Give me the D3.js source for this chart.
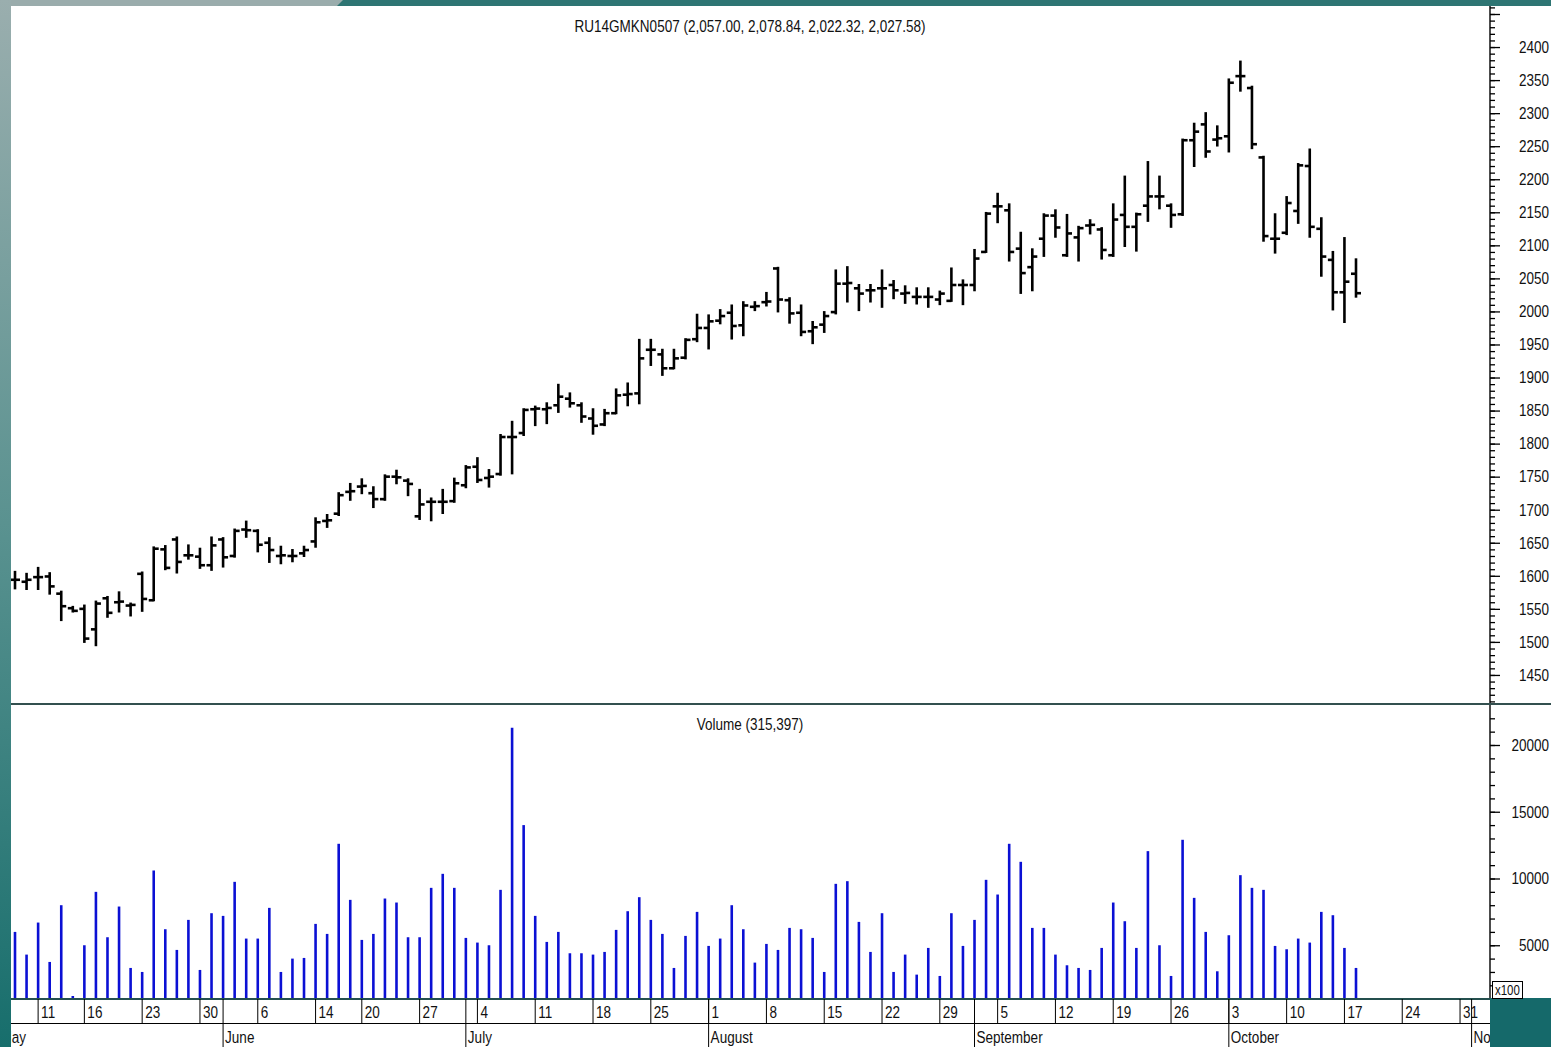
<!DOCTYPE html>
<html>
<head>
<meta charset="utf-8">
<script src="https://d3js.org/d3.v7.min.js"></script>
<style>
body { margin: 0; background: #2e7573; }
svg text { font-family: "Liberation Sans", Arial, sans-serif; fill: #111; }
</style>
</head>
<body>
<svg id="chart" width="1551" height="1047"></svg>
<script>
// OHLC for each trading day (May 5 .. Oct 18, 2005)
const open = [1594,1591,1598,1599,1573,1551,1550,1519,1566,1560,1555,1603,1563,1640,1655,1631,1629,1616,1655,1630,
  1670,1668,1650,1630,1630,1634,1652,1683,1694,1727,1735,1725,1716,1750,1744,1690,1712,1712,1713,1737,
  1765,1748,1754,1810,1816,1852,1852,1858,1868,1858,1838,1829,1846,1874,1876,1942,1935,1914,1930,1958,
  1975,1986,1998,1979,2007,2014,2065,2017,1998,1970,1980,1999,2042,2035,2032,2035,2040,2027,2022,2022,
  2018,2016,2040,2040,2090,2159,2153,2095,2067,2110,2145,2085,2112,2130,2124,2085,2146,2128,2160,2174,
  2160,2147,2259,2283,2260,2265,2356,2338,2233,2110,2119,2152,2220,2125,2078,2029,2057];
const high = [1606,1603,1612,1604,1576,1553,1555,1561,1568,1575,1558,1605,1643,1645,1658,1646,1641,1658,1657,1670,
  1682,1669,1657,1644,1639,1644,1687,1692,1725,1739,1746,1734,1752,1759,1746,1730,1717,1730,1747,1766,
  1778,1760,1813,1833,1852,1856,1861,1889,1876,1861,1852,1851,1882,1891,1957,1957,1942,1942,1958,1995,
  1994,2002,2009,2014,2014,2028,2066,2020,2009,1984,1999,2062,2067,2040,2040,2062,2046,2038,2035,2035,
  2030,2065,2047,2093,2149,2178,2162,2119,2094,2147,2153,2146,2128,2138,2126,2162,2204,2148,2226,2204,
  2162,2260,2284,2300,2280,2351,2378,2340,2234,2147,2173,2223,2245,2141,2090,2111,2078.84];
const low = [1581,1580,1580,1573,1533,1546,1500,1495,1538,1546,1540,1547,1563,1610,1605,1626,1612,1609,1614,1629,
  1659,1637,1621,1619,1622,1630,1644,1674,1692,1715,1725,1704,1715,1740,1722,1686,1684,1695,1712,1734,
  1742,1735,1753,1755,1813,1828,1831,1848,1856,1833,1815,1828,1846,1858,1861,1919,1904,1914,1929,1955,
  1944,1982,1959,1964,2002,2009,2000,1983,1964,1952,1969,1997,2015,2002,2015,2007,2020,2013,2012,2007,
  2011,2016,2011,2032,2090,2135,2077,2028,2032,2084,2113,2084,2077,2118,2080,2084,2099,2092,2137,2156,
  2128,2146,2220,2234,2251,2242,2334,2247,2107,2089,2117,2134,2113,2054,2003,1984,2022.32];
const close = [1594,1594,1598,1584,1554,1547,1505,1558,1544,1561,1556,1565,1641,1612,1621,1631,1616,1646,1628,1668,
  1669,1647,1639,1631,1630,1639,1681,1684,1722,1728,1736,1716,1750,1749,1739,1708,1712,1712,1740,1764,
  1745,1750,1810,1810,1851,1853,1854,1871,1861,1841,1827,1846,1873,1875,1929,1942,1914,1929,1957,1975,
  1985,1993,1978,2009,2008,2015,2018,1997,1969,1976,1993,2042,2043,2027,2032,2035,2032,2028,2022,2022,
  2027,2040,2040,2080,2148,2159,2090,2058,2083,2145,2127,2118,2126,2131,2093,2139,2128,2147,2174,2174,
  2146,2259,2272,2242,2262,2346,2356,2253,2114,2110,2164,2221,2128,2083,2029,2045,2027.58];
// daily volume in hundreds
const volume = [6000,4300,6700,3750,8000,1200,5000,9000,5600,7900,3300,3000,10600,6200,4650,6900,3150,7400,7200,9750,
  5500,5500,7800,3000,4000,4050,6600,5850,12600,8400,5400,5850,8500,8200,5600,5600,9300,10350,9300,5550,
  5200,5000,9150,21300,14000,7200,5250,6000,4400,4400,4300,4500,6150,7550,8600,6900,5850,3300,5700,7500,
  4950,5500,8000,6200,3700,5100,4650,6300,6200,5550,3000,9600,9800,6750,4500,7400,3000,4300,2800,4800,
  2700,7400,4950,6900,9900,8800,12600,11250,6300,6300,4300,3500,3300,3150,4800,8200,6800,4800,12050,5000,
  2700,12900,8550,6000,3050,5750,10250,9300,9150,4950,4700,5500,5200,7500,7250,4800,3300];

// trading calendar (Russian market 2005)
const firstDay = "2005-05-05";
const holidays = ["2005-05-09", "2005-05-10", "2005-06-13"];
const workSaturdays = ["2005-05-14"];
const monthNames = ["January","February","March","April","May","June","July","August","September","October","November","December"];
const priceLabels = [1450,1500,1550,1600,1650,1700,1750,1800,1850,1900,1950,2000,2050,2100,2150,2200,2250,2300,2350,2400];
const volumeLabels = [5000,10000,15000,20000];

const title = "RU14GMKN0507 (2,057.00, 2,078.84, 2,022.32, 2,027.58)";
const volTitle = "Volume (315,397)";

const fmt = d3.timeFormat("%Y-%m-%d");
const days = [];
for (let d = d3.timeParse("%Y-%m-%d")(firstDay); days.length < 128; d = d3.timeDay.offset(d, 1)) {
  const s = fmt(d), wd = d.getDay();
  if (holidays.includes(s)) continue;
  if ((wd === 0 || wd === 6) && !workSaturdays.includes(s)) continue;
  days.push(d);
}

const svg = d3.select("#chart");
const W = 1551, H = 1047;
const axisX = 1490;
const NARROW = 0.82; // squeeze Liberation Sans to look like Arial Narrow

// frame
const defs = svg.append("defs");
const grad = defs.append("linearGradient").attr("id", "side").attr("x1", 0).attr("y1", 0).attr("x2", 0).attr("y2", 1);
grad.append("stop").attr("offset", "0%").attr("stop-color", "#9aaeae");
grad.append("stop").attr("offset", "50%").attr("stop-color", "#5a9290");
grad.append("stop").attr("offset", "100%").attr("stop-color", "#176e6c");
svg.append("rect").attr("width", W).attr("height", H).attr("fill", "#2e7573");
svg.append("polygon").attr("points", "0,0 343,0 337,6 0,6").attr("fill", "#9aacac");
svg.append("rect").attr("x", 0).attr("y", 0).attr("width", 11).attr("height", H).attr("fill", "url(#side)");
svg.append("rect").attr("x", 11).attr("y", 6).attr("width", W - 11).attr("height", H - 6).attr("fill", "#fff");

defs.append("clipPath").attr("id", "plot").append("rect").attr("x", 11).attr("y", 6).attr("width", axisX - 11).attr("height", 1041);

const x = d3.scaleLinear().domain([0, 116]).range([15, 1356]);
const y = d3.scaleLinear().domain([1400, 2450]).range([708, 14]);
const yv = d3.scaleLinear().domain([0, 20000]).range([1012, 745]);

// price bars
const bars = svg.append("g").attr("clip-path", "url(#plot)")
  .attr("stroke", "#000").attr("stroke-width", 2.6);
open.forEach((o, i) => {
  const cx = x(i);
  bars.append("line").attr("x1", cx).attr("x2", cx).attr("y1", y(high[i]) - 1).attr("y2", y(low[i]) + 1);
  bars.append("line").attr("x1", cx - 5).attr("x2", cx).attr("y1", y(o)).attr("y2", y(o));
  bars.append("line").attr("x1", cx).attr("x2", cx + 5).attr("y1", y(close[i])).attr("y2", y(close[i]));
});

// volume bars
svg.append("g").selectAll("line").data(volume).join("line")
  .attr("x1", (d, i) => x(i)).attr("x2", (d, i) => x(i))
  .attr("y1", 998).attr("y2", d => yv(d))
  .attr("stroke", "#0b10d4").attr("stroke-width", 2.6);

// panel titles
svg.append("text").attr("x", 750).attr("y", 32).attr("text-anchor", "middle").style("font-size", "16.5px").text(title);
svg.append("text").attr("x", 750).attr("y", 730).attr("text-anchor", "middle").style("font-size", "16.5px").text(volTitle);

// right price axis
const pAxis = svg.append("g").attr("transform", `translate(${axisX},0)`);
pAxis.call(d3.axisRight(y).tickValues(d3.range(1410, 2461, 10)).tickSize(5).tickFormat(""));
pAxis.call(g => g.select(".domain").remove());
const pMajor = svg.append("g").attr("transform", `translate(${axisX},0)`)
  .call(d3.axisRight(y).tickValues(d3.range(1450, 2451, 50)).tickSize(10)
    .tickFormat(d => priceLabels.includes(d) ? d : ""));
pMajor.select(".domain").remove();
pMajor.selectAll("text").attr("x", 59).attr("text-anchor", "end").style("font-size", "16.5px")
  .style("font-family", "'Liberation Sans', Arial, sans-serif").style("fill", "#111");

// right volume axis
const vAxis = svg.append("g").attr("transform", `translate(${axisX},0)`)
  .call(d3.axisRight(yv).tickValues(d3.range(2000, 22001, 1000)).tickSize(5).tickFormat(""));
vAxis.select(".domain").remove();
const vMajor = svg.append("g").attr("transform", `translate(${axisX},0)`)
  .call(d3.axisRight(yv).tickValues(volumeLabels).tickSize(10).tickFormat(d => d));
vMajor.select(".domain").remove();
vMajor.selectAll("text").attr("x", 59).attr("text-anchor", "end").style("font-size", "16.5px")
  .style("font-family", "'Liberation Sans', Arial, sans-serif").style("fill", "#111");
svg.selectAll(".tick line").attr("stroke", "#000").attr("stroke-width", 1.3);

svg.append("line").attr("x1", axisX).attr("x2", axisX).attr("y1", 6).attr("y2", 998).attr("stroke", "#000").attr("stroke-width", 1.4);

// panel separators
svg.append("line").attr("x1", 11).attr("x2", W).attr("y1", 704).attr("y2", 704).attr("stroke", "#33504f").attr("stroke-width", 2.2);
svg.append("line").attr("x1", 11).attr("x2", axisX).attr("y1", 999).attr("y2", 999).attr("stroke", "#244f4e").attr("stroke-width", 2.2);
svg.append("line").attr("x1", 11).attr("x2", axisX).attr("y1", 1023.5).attr("y2", 1023.5).attr("stroke", "#000").attr("stroke-width", 1);

// date axis
const dates = svg.append("g").attr("clip-path", "url(#plot)");
days.forEach((d, i) => {
  const prev = days[i - 1];
  const cx = x(i);
  if (i > 0 && +d3.timeMonday.floor(d) !== +d3.timeMonday.floor(prev)) {
    dates.append("line").attr("x1", cx).attr("x2", cx).attr("y1", 999).attr("y2", 1023).attr("stroke", "#000");
    dates.append("text").attr("x", cx + 3).attr("y", 1018).style("font-size", "16.5px").text(d.getDate());
  }
  if (i > 0 && d.getMonth() !== prev.getMonth()) {
    dates.append("line").attr("x1", cx).attr("x2", cx).attr("y1", 999).attr("y2", H).attr("stroke", "#000");
    dates.append("text").attr("x", cx + 2).attr("y", 1043).style("font-size", "16.5px").text(monthNames[d.getMonth()]);
  }
});
dates.append("text").attr("x", x(-1) - 3).attr("y", 1043).style("font-size", "16.5px").text(monthNames[days[0].getMonth()]);

// bottom-right corner box and scale note
svg.append("rect").attr("x", axisX).attr("y", 998).attr("width", W - axisX).attr("height", H - 998).attr("fill", "#15696a");
svg.append("rect").attr("x", 1492.5).attr("y", 981.5).attr("width", 30).attr("height", 17).attr("fill", "#fff").attr("stroke", "#000");
svg.append("text").attr("x", 1495).attr("y", 995).style("font-size", "14px").text("x100");

// narrow every label horizontally (x positions are divided so anchors stay put)
svg.selectAll("text").each(function () {
  const t = d3.select(this);
  t.attr("x", (+t.attr("x") || 0) / NARROW).attr("transform", `scale(${NARROW},1)`);
});
</script>
</body>
</html>
